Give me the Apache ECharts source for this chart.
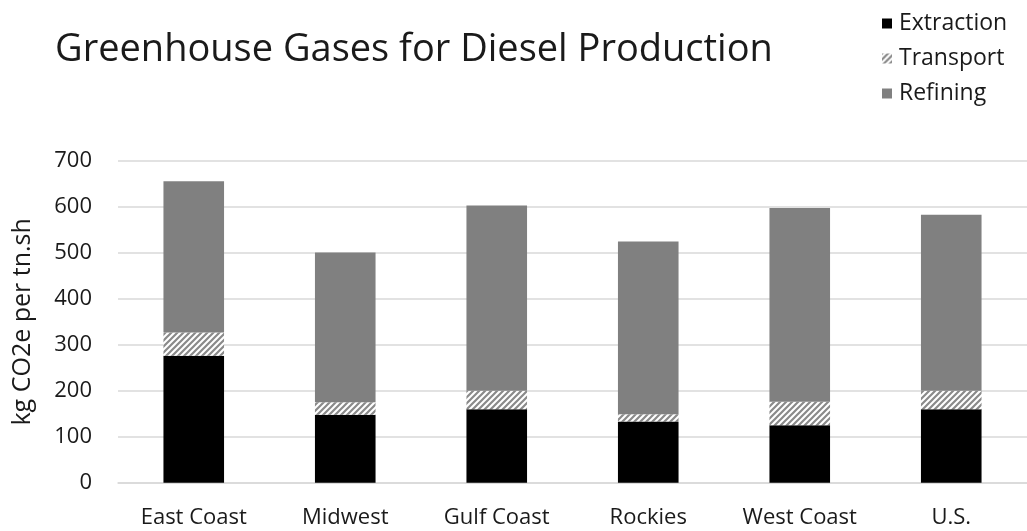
<!DOCTYPE html>
<html>
<head>
<meta charset="utf-8">
<script src="https://cdn.jsdelivr.net/npm/echarts@6/dist/echarts.min.js"></script>
<style>
html,body{margin:0;padding:0;background:#fff;}
#chart{width:1027px;height:531px;}
</style>
</head>
<body>
<div id="chart"></div>
<script>
const categories = ['East Coast', 'Midwest', 'Gulf Coast', 'Rockies', 'West Coast', 'U.S.'];
const extraction = [276, 148, 160, 133, 125, 160];
const transport = [51, 27, 40, 16, 51, 40];
const refining = [329, 326, 403, 376, 422, 383];
const yTicks = { min: 0, max: 700, interval: 100 };

function makeHatch() {
  const s = 6;
  const c = document.createElement('canvas');
  c.width = s; c.height = s;
  const g = c.getContext('2d');
  g.fillStyle = '#ffffff';
  g.fillRect(0, 0, s, s);
  g.strokeStyle = '#8a8a8a';
  g.lineWidth = 2.2;
  g.beginPath();
  g.moveTo(0, s); g.lineTo(s, 0);
  g.moveTo(-s, s); g.lineTo(s, -s);
  g.moveTo(0, 2 * s); g.lineTo(2 * s, 0);
  g.stroke();
  return c;
}
const hatch = { image: makeHatch(), repeat: 'repeat' };

const font = '"Open Sans", "Noto Sans", sans-serif';

const chart = echarts.init(document.getElementById('chart'));
chart.setOption({
  animation: false,
  textStyle: { fontFamily: font },
  title: {
    text: 'Greenhouse Gases for Diesel Production',
    left: 50, top: 26,
    textStyle: { fontFamily: font, fontSize: 38, fontWeight: 'normal', color: '#1a1a1a' }
  },
  legend: {
    orient: 'vertical',
    left: 877, top: 7,
    itemWidth: 10, itemHeight: 10, itemGap: 12,
    icon: 'rect',
    textStyle: { fontFamily: font, fontSize: 23, color: '#1a1a1a', padding: [0, 0, 0, 2] },
    data: ['Extraction', 'Transport', 'Refining']
  },
  grid: { left: 118, top: 161, width: 920, height: 321.7 },
  xAxis: {
    type: 'category',
    data: categories,
    axisLine: { show: true, lineStyle: { color: '#d9d9d9', width: 1.5 } },
    axisTick: { show: false },
    axisLabel: { fontFamily: font, fontSize: 22, color: '#1a1a1a', margin: 24, interval: 0 }
  },
  yAxis: {
    type: 'value',
    min: yTicks.min, max: yTicks.max, interval: yTicks.interval,
    name: 'kg CO2e per tn.sh',
    nameLocation: 'middle',
    nameGap: 83,
    nameTextStyle: { fontFamily: font, fontSize: 25, color: '#1a1a1a' },
    axisLine: { show: false },
    axisTick: { show: false },
    axisLabel: { fontFamily: font, fontSize: 22, color: '#1a1a1a', margin: 26 },
    splitLine: { lineStyle: { color: '#d9d9d9', width: 1.5 } }
  },
  series: [
    { name: 'Extraction', type: 'bar', stack: 'total', barWidth: '40%', data: extraction,
      itemStyle: { color: '#000000' } },
    { name: 'Transport', type: 'bar', stack: 'total', barWidth: '40%', data: transport,
      itemStyle: { color: hatch } },
    { name: 'Refining', type: 'bar', stack: 'total', barWidth: '40%', data: refining,
      itemStyle: { color: '#808080' } }
  ]
});
</script>
</body>
</html>
